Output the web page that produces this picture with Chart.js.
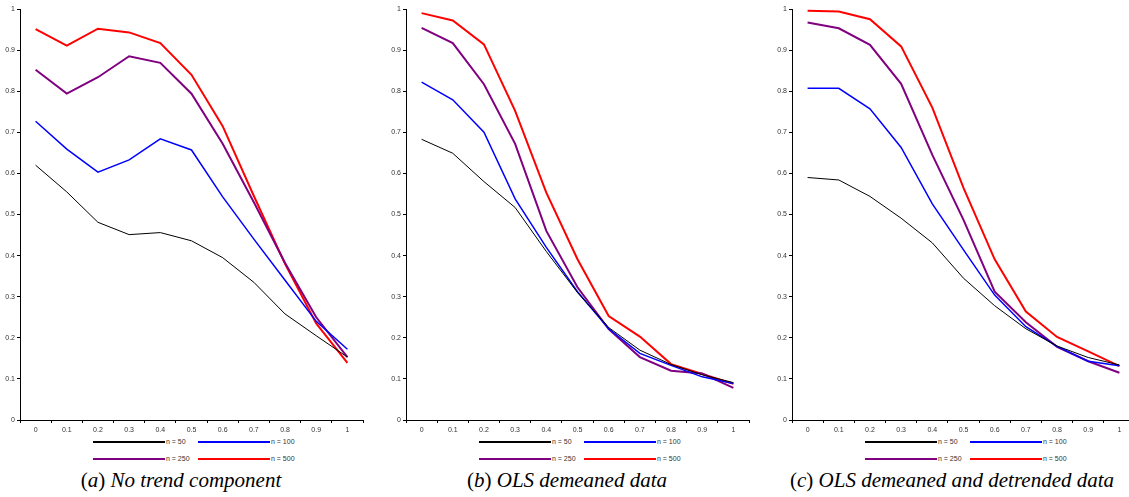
<!DOCTYPE html>
<html>
<head>
<meta charset="utf-8">
<script src="https://cdn.jsdelivr.net/npm/chart.js@4"></script>
<style>
  body { margin: 0; width: 1129px; height: 497px; overflow: hidden; background: #fff; position: relative; }
  .panel { position: absolute; top: 0; }
  .legend-item { position: absolute; font: 7px "Liberation Sans", Arial, sans-serif; color: #333; white-space: nowrap; display: flex; align-items: center; }
  .legend-line { width: 72px; height: 2px; margin-right: 1px; }
  .caption { position: absolute; top: 468px; font: italic 21px "Liberation Serif", "Times New Roman", serif; color: #000; white-space: nowrap; transform: translateX(-50%); }
  .caption span { font-style: normal; }
</style>
</head>
<body>
<script>
// categories (x axis)
const categories = ['0', '0.1', '0.2', '0.3', '0.4', '0.5', '0.6', '0.7', '0.8', '0.9', '1'];
const seriesNames = ['n = 50', 'n = 100', 'n = 250', 'n = 500'];
const seriesColors = ['#000000', '#0000ff', '#800080', '#ff0000'];
const seriesWidths = [1, 1.5, 2, 2];

// (a) No trend component
const a_n50  = [0.620, 0.555, 0.481, 0.451, 0.456, 0.436, 0.395, 0.335, 0.258, 0.205, 0.153];
const a_n100 = [0.727, 0.659, 0.603, 0.633, 0.684, 0.657, 0.543, 0.440, 0.340, 0.240, 0.172];
const a_n250 = [0.852, 0.794, 0.834, 0.885, 0.869, 0.794, 0.672, 0.530, 0.382, 0.250, 0.153];
const a_n500 = [0.951, 0.911, 0.952, 0.943, 0.917, 0.840, 0.715, 0.545, 0.380, 0.235, 0.139];

// (b) OLS demeaned data
const b_n50  = [0.683, 0.649, 0.580, 0.517, 0.410, 0.310, 0.225, 0.170, 0.135, 0.110, 0.091];
const b_n100 = [0.822, 0.779, 0.700, 0.538, 0.420, 0.312, 0.222, 0.162, 0.133, 0.105, 0.089];
const b_n250 = [0.954, 0.917, 0.817, 0.672, 0.460, 0.323, 0.221, 0.153, 0.120, 0.113, 0.078];
const b_n500 = [0.990, 0.972, 0.914, 0.752, 0.553, 0.391, 0.253, 0.203, 0.136, 0.112, 0.088];

// (c) OLS demeaned and detrended data
const c_n50  = [0.590, 0.584, 0.544, 0.491, 0.431, 0.345, 0.278, 0.222, 0.180, 0.152, 0.134];
const c_n100 = [0.807, 0.807, 0.757, 0.663, 0.526, 0.414, 0.304, 0.227, 0.179, 0.143, 0.132];
const c_n250 = [0.967, 0.953, 0.913, 0.818, 0.645, 0.487, 0.312, 0.238, 0.178, 0.143, 0.115];
const c_n500 = [0.996, 0.994, 0.975, 0.909, 0.760, 0.565, 0.391, 0.264, 0.202, 0.167, 0.131];

const yTicks = [0, 0.1, 0.2, 0.3, 0.4, 0.5, 0.6, 0.7, 0.8, 0.9, 1];

const panels = [
  { left: 0,   caption: ['(', 'a', ') No trend component'], capX: 181, data: [a_n50, a_n100, a_n250, a_n500] },
  { left: 386, caption: ['(', 'b', ') OLS demeaned data'], capX: 567, data: [b_n50, b_n100, b_n250, b_n500] },
  { left: 772, caption: ['(', 'c', ') OLS demeaned and detrended data'], capX: 952, data: [c_n50, c_n100, c_n250, c_n500] }
];

const tickFont = { family: '"Liberation Sans", Arial, sans-serif', size: 7 };
const axisW = 20;

panels.forEach(function (p) {
  const div = document.createElement('div');
  div.className = 'panel';
  div.style.left = p.left + 'px';
  const canvas = document.createElement('canvas');
  canvas.width = 370;
  canvas.height = 436;
  div.appendChild(canvas);
  document.body.appendChild(div);

  new Chart(canvas.getContext('2d'), {
    type: 'line',
    data: {
      labels: categories,
      datasets: p.data.map(function (vals, i) {
        return {
          label: seriesNames[i],
          data: vals,
          borderColor: seriesColors[i],
          backgroundColor: seriesColors[i],
          borderWidth: seriesWidths[i],
          pointRadius: 0,
          tension: 0,
          fill: false
        };
      })
    },
    options: {
      responsive: false,
      animation: false,
      devicePixelRatio: 1,
      layout: { padding: { left: 0, right: 7, top: 9, bottom: 0 } },
      plugins: { legend: { display: false }, tooltip: { enabled: false } },
      scales: {
        x: {
          offset: true,
          grid: { offset: true, drawOnChartArea: false, tickLength: 3, color: '#000' },
          border: { color: '#000', width: 1 },
          ticks: { font: tickFont, color: '#333', padding: 3, maxRotation: 0, autoSkip: false },
          afterFit: function (s) { s.height = 16; }
        },
        y: {
          min: 0,
          max: 1,
          afterBuildTicks: function (s) { s.ticks = yTicks.map(function (v) { return { value: v }; }); },
          grid: { drawOnChartArea: false, tickLength: 3, color: '#000' },
          border: { color: '#000', width: 1 },
          ticks: { font: tickFont, color: '#333', padding: 2, callback: function (v) { return String(+v.toFixed(1)); } },
          afterFit: function (s) { s.width = axisW; }
        }
      }
    }
  });

  // legend (two rows, two items each)
  const axisX = p.left + axisW;
  seriesNames.forEach(function (name, i) {
    const item = document.createElement('div');
    item.className = 'legend-item';
    item.style.left = (axisX + 73 + (i % 2) * 105) + 'px';
    item.style.top = (438 + Math.floor(i / 2) * 17) + 'px';
    const line = document.createElement('div');
    line.className = 'legend-line';
    line.style.background = seriesColors[i];
    const txt = document.createElement('span');
    txt.textContent = name;
    item.appendChild(line);
    item.appendChild(txt);
    document.body.appendChild(item);
  });

  const cap = document.createElement('div');
  cap.className = 'caption';
  cap.style.left = p.capX + 'px';
  cap.innerHTML = '<span>' + p.caption[0] + '</span>' + p.caption[1] + '<span>' + p.caption[2].charAt(0) + '</span>' + p.caption[2].slice(1);
  document.body.appendChild(cap);
});
</script>
</body>
</html>
